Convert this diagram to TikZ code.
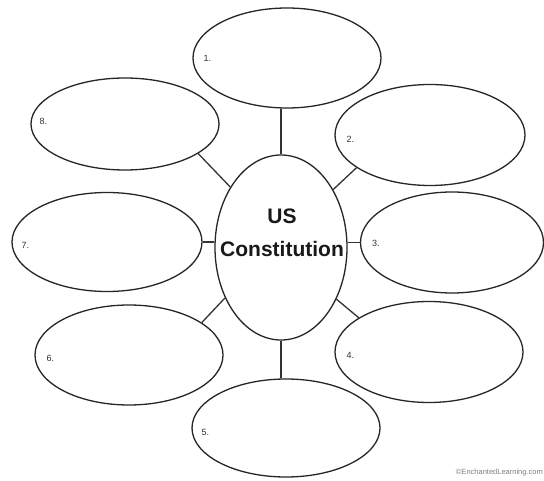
\documentclass[tikz,border=0pt]{standalone}
\usepackage{fontspec}
\setmainfont{Liberation Sans}
\usetikzlibrary{shapes.geometric}
\tikzset{
  bubble/.style={ellipse, draw=black!85, line width=1.3pt, inner sep=0pt},
  link/.style={draw=black!80, line width=1.3pt},
  numlab/.style={anchor=west, inner sep=0pt, font=\fontsize{9}{10}\selectfont, text=black!80},
  hub/.style={bubble, minimum width=132pt, minimum height=185pt},
  hubtext/.style={inner sep=0pt, font=\fontsize{21}{23}\selectfont\bfseries, text=black!90}
}
\begin{document}
\begin{tikzpicture}[x=1pt,y=-1pt]
  \useasboundingbox[fill=white] (0,0) rectangle (544,481);

  % central topic
  \node[hub] (c) at (281,247.5) {};
  \node[hubtext] (t1) at (282,216) {US};
  \node[hubtext] (t2) at (282,249) {Constitution};

  % surrounding bubbles
  \node[bubble, minimum width=188pt, minimum height=100pt] (e1) at (287,58) {};
  \node[bubble, minimum width=190pt, minimum height=101pt] (e2) at (430,135) {};
  \node[bubble, minimum width=183pt, minimum height=101pt] (e3) at (452,242.5) {};
  \node[bubble, minimum width=188pt, minimum height=101pt] (e4) at (429,352) {};
  \node[bubble, minimum width=188pt, minimum height=98pt] (e5) at (286,428) {};
  \node[bubble, minimum width=188pt, minimum height=100pt] (e6) at (129,355) {};
  \node[bubble, minimum width=190pt, minimum height=99pt] (e7) at (107,242) {};
  \node[bubble, minimum width=188pt, minimum height=92pt] (e8) at (125,124) {};

  % numbers
  \node[numlab] (n1) at ([xshift=11pt]e1.west) {1.};
  \node[numlab] (n2) at ([xshift=12pt,yshift=-4pt]e2.west) {2.};
  \node[numlab] (n3) at ([xshift=12pt,yshift=-1pt]e3.west) {3.};
  \node[numlab] (n4) at ([xshift=12pt,yshift=-3pt]e4.west) {4.};
  \node[numlab] (n5) at ([xshift=10pt,yshift=-4pt]e5.west) {5.};
  \node[numlab] (n6) at ([xshift=12pt,yshift=-3pt]e6.west) {6.};
  \node[numlab] (n7) at ([xshift=10pt,yshift=-3pt]e7.west) {7.};
  \node[numlab] (n8) at ([xshift=9pt,yshift=3pt]e8.west) {8.};

  % connectors
  \draw[link] (c.north) -- (c.north |- e1.south);
  \draw[link] (c.south) -- (c.south |- e5.north);
  \draw[link] (e7.east) -- (e7.east -| c.west);
  \draw[link] (e3.west) -- (e3.west -| c.east);
  \draw[link] (c.130.6) -- (e8.-22.8);
  \draw[link] (c.48.9) -- (e2.-156.3);
  \draw[link] (c.222.1) -- (e6.24);
  \draw[link] (c.-43.2) -- (e4.154);

  % credit line
  \node[anchor=east, inner sep=0pt, font=\fontsize{7.5}{8}\selectfont, text=black!50] (credit) at (543,473) {\textcopyright EnchantedLearning.com};
\end{tikzpicture}
\end{document}
